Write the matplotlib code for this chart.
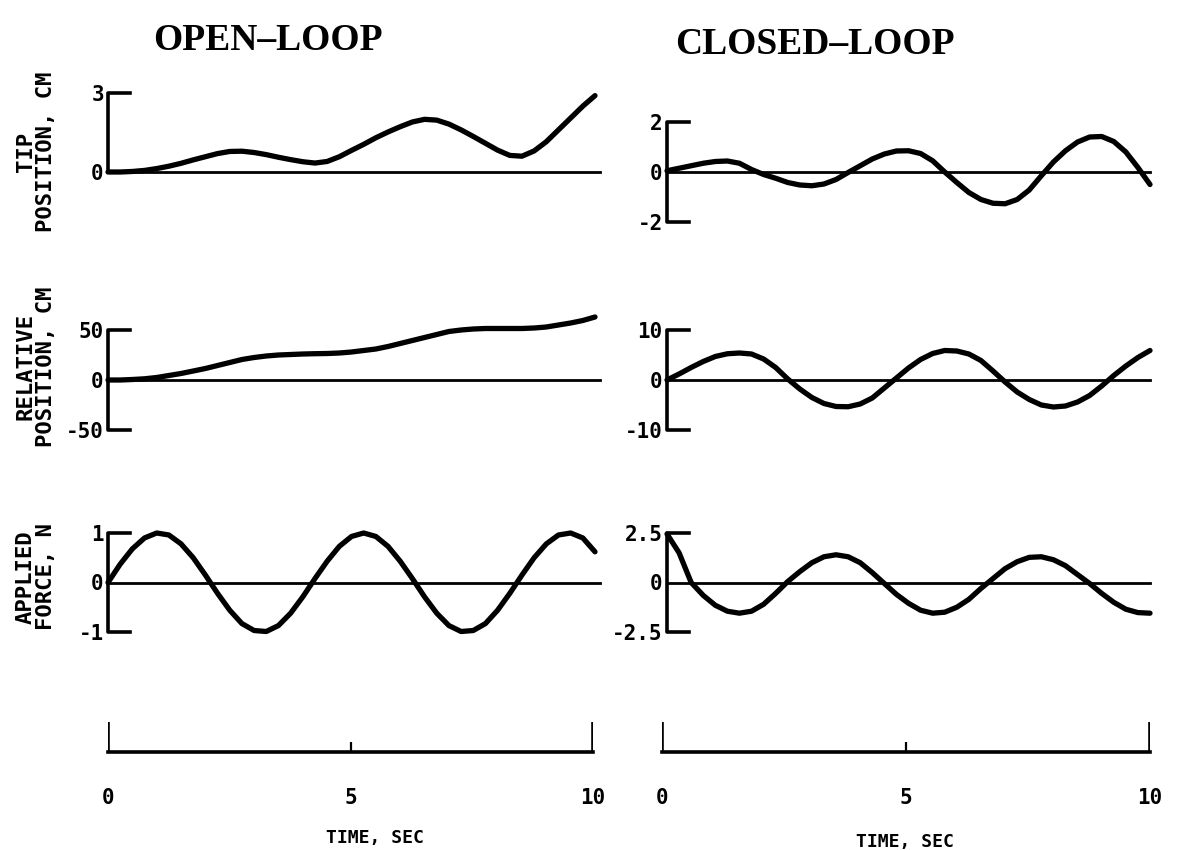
import numpy as np
import matplotlib.pyplot as plt

# zaman ekseni (s), 0.25 s aralikla okunmus degerler
t = np.arange(0, 10.01, 0.25)

# acik cevrim (OPEN-LOOP)
tip_open = [0.0, 0.0, 0.02, 0.06, 0.13, 0.22, 0.33, 0.46, 0.58, 0.7,
            0.78, 0.79, 0.74, 0.66, 0.56, 0.47, 0.39, 0.34, 0.4, 0.58,
            0.82, 1.05, 1.3, 1.52, 1.72, 1.9, 2.0, 1.97, 1.82, 1.6,
            1.35, 1.09, 0.83, 0.63, 0.6, 0.8, 1.15, 1.6, 2.05, 2.5, 2.9]
rel_open = [0, 0, 0.5, 1.2, 2.5, 4.5, 6.5, 9, 11.5, 14.5,
            17.5, 20.5, 22.5, 24, 25, 25.5, 26, 26.3, 26.5, 27,
            28, 29.5, 31, 33.5, 36.5, 39.5, 42.5, 45.5, 48.5, 50,
            51, 51.5, 51.5, 51.5, 51.5, 52, 53, 55, 57, 59.5, 63]
force_open = [0.0, 0.37, 0.68, 0.9, 1.0, 0.96, 0.78, 0.5, 0.15, -0.22,
              -0.56, -0.83, -0.97, -0.99, -0.87, -0.62, -0.29, 0.08, 0.43, 0.73,
              0.93, 1.0, 0.93, 0.73, 0.43, 0.08, -0.29, -0.62, -0.87, -0.99,
              -0.97, -0.83, -0.56, -0.22, 0.15, 0.5, 0.78, 0.96, 1.0, 0.9, 0.62]

# kapali cevrim (CLOSED-LOOP)
tip_closed = [0.05, 0.15, 0.25, 0.35, 0.42, 0.44, 0.35, 0.1, -0.1, -0.25,
              -0.42, -0.52, -0.55, -0.48, -0.3, -0.02, 0.25, 0.52, 0.72, 0.84,
              0.85, 0.74, 0.45, 0.0, -0.42, -0.82, -1.1, -1.25, -1.27, -1.1,
              -0.72, -0.15, 0.4, 0.85, 1.2, 1.4, 1.42, 1.22, 0.8, 0.18, -0.5]
rel_closed = [0, 1.2, 2.5, 3.7, 4.7, 5.25, 5.4, 5.2, 4.2, 2.5,
              0.2, -1.8, -3.5, -4.7, -5.3, -5.35, -4.8, -3.6, -1.6, 0.4,
              2.4, 4.1, 5.3, 5.9, 5.8, 5.2, 3.9, 1.8, -0.4, -2.4,
              -3.9, -5.0, -5.4, -5.2, -4.4, -3.1, -1.2, 0.9, 2.8, 4.5, 5.9]
force_closed = [2.45, 1.5, 0.0, -0.65, -1.15, -1.45, -1.55, -1.45, -1.1, -0.55,
                0.05, 0.55, 1.0, 1.3, 1.4, 1.3, 1.0, 0.5, -0.05, -0.6,
                -1.05, -1.4, -1.55, -1.5, -1.25, -0.85, -0.3, 0.2, 0.7, 1.05,
                1.27, 1.3, 1.15, 0.85, 0.4, -0.05, -0.55, -1.0, -1.35, -1.52, -1.55]

# eksen etiketleri
tip_ticks_open = [0, 3]
tip_ticks_closed = [-2, 0, 2]
rel_ticks_open = [-50, 0, 50]
rel_ticks_closed = [-10, 0, 10]
force_ticks_open = [-1, 0, 1]
force_ticks_closed = [-2.5, 0, 2.5]
force_labels_closed = ["-2.5", "0", "2.5"]
time_ticks = [0, 5, 10]

ylabels = ["TIP\nPOSITION, CM", "RELATIVE\nPOSITION, CM", "APPLIED\nFORCE, N"]

W, H = 1177, 850
mono = "DejaVu Sans Mono"

fig = plt.figure(figsize=(W / 100, H / 100), dpi=100)


def box(x0, x1, y0, y1):
    # piksel kutusu -> figure koordinati
    return [x0 / W, 1 - y1 / H, (x1 - x0) / W, (y1 - y0) / H]


def panel(rect, y, ticks, labels=None, bracket_low=True, zero_end=10.0):
    ax = fig.add_axes(rect)
    ax.set_xlim(0, 10)
    ax.set_ylim(min(ticks), max(ticks))
    for s in ax.spines.values():
        s.set_visible(False)
    ax.set_xticks([])
    ax.set_yticks(ticks)
    ax.set_yticklabels(labels if labels else [str(v) for v in ticks],
                       fontfamily=mono, fontweight="bold", fontsize=15)
    ax.tick_params(axis="y", length=0, pad=3)
    lo, hi = min(ticks), max(ticks)
    if bracket_low:
        ax.plot([0.45, 0, 0, 0.45], [hi, hi, lo, lo], color="black", lw=2.6,
                clip_on=False)
    else:
        ax.plot([0.45, 0, 0], [hi, hi, lo], color="black", lw=2.6, clip_on=False)
    ax.plot([0, zero_end], [0, 0], color="black", lw=2.0, clip_on=False)
    ax.plot(t, y, color="black", lw=3.8, clip_on=False,
            solid_capstyle="round", solid_joinstyle="round")
    return ax


# sol sutun
panel(box(108, 595, 93, 172), tip_open, tip_ticks_open, bracket_low=False,
      zero_end=10.1)
panel(box(108, 595, 330, 430), rel_open, rel_ticks_open, zero_end=10.1)
panel(box(108, 595, 533, 632), force_open, force_ticks_open, zero_end=10.1)

# sag sutun
panel(box(667, 1150, 122, 222), tip_closed, tip_ticks_closed)
panel(box(667, 1150, 330, 430), rel_closed, rel_ticks_closed)
panel(box(667, 1150, 533, 632), force_closed, force_ticks_closed,
      labels=force_labels_closed)

# y eksen basliklari
for lab, yc in zip(ylabels, [152, 367, 577]):
    fig.text(36 / W, 1 - yc / H, lab, rotation=90, ha="center", va="center",
             multialignment="center", fontfamily=mono, fontweight="bold",
             fontsize=16, linespacing=1.05)

# zaman eksenleri
for x0, x1, xc, yc in [(108, 593, 375, 838), (662, 1150, 905, 842)]:
    ax = fig.add_axes(box(x0, x1, 722, 752))
    ax.set_xlim(0, 10)
    ax.set_ylim(0, 1)
    for s in ["left", "right", "top"]:
        ax.spines[s].set_visible(False)
    ax.spines["bottom"].set_linewidth(2.6)
    ax.set_yticks([])
    ax.set_xticks(time_ticks)
    ax.set_xticklabels([str(v) for v in time_ticks], fontfamily=mono,
                       fontweight="bold", fontsize=15)
    ax.tick_params(axis="x", length=0, pad=26)
    ax.vlines([0, 10], 0, 1, color="black", lw=2.6)
    ax.vlines([5], 0, 0.35, color="black", lw=1.6)
    fig.text(xc / W, 1 - yc / H, "TIME, SEC", ha="center", va="center",
             fontfamily=mono, fontweight="bold", fontsize=13)

# basliklar
fig.text(268 / W, 1 - 40 / H, "OPEN\u2013LOOP", ha="center", va="center",
         fontfamily="Liberation Serif", fontweight="bold", fontsize=27)
fig.text(815 / W, 1 - 45 / H, "CLOSED\u2013LOOP", ha="center", va="center",
         fontfamily="Liberation Serif", fontweight="bold", fontsize=27)

fig.savefig("out.png", dpi=100, facecolor="white")
